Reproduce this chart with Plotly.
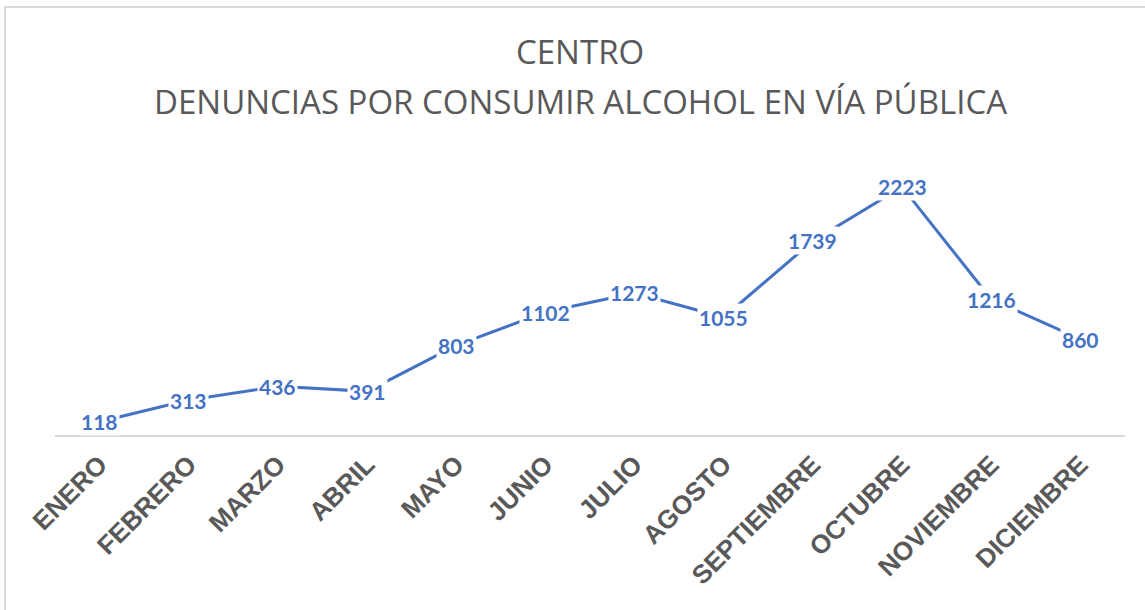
import plotly.graph_objects as go

months = ["ENERO", "FEBRERO", "MARZO", "ABRIL", "MAYO", "JUNIO", "JULIO",
          "AGOSTO", "SEPTIEMBRE", "OCTUBRE", "NOVIEMBRE", "DICIEMBRE"]
denuncias = [118, 313, 436, 391, 803, 1102, 1273, 1055, 1739, 2223, 1216, 860]
title_line1 = "CENTRO"
title_line2 = "DENUNCIAS POR CONSUMIR ALCOHOL EN VÍA PÚBLICA"

BLUE = "#4472C4"
GRAY = "#595959"

fig = go.Figure()
fig.add_trace(go.Scatter(
    x=months, y=denuncias, mode="lines",
    line=dict(color=BLUE, width=3),
    hoverinfo="skip", showlegend=False,
))

annotations = []
for m, v in zip(months, denuncias):
    annotations.append(dict(
        x=m, y=v, xref="x", yref="y", text=str(v), showarrow=False,
        font=dict(family="Lato", size=21, color=BLUE, weight="bold"),
        bgcolor="white", borderpad=1,
    ))

annotations.append(dict(
    x=0.4907, y=1.373, xref="paper", yref="paper", text=title_line1, showarrow=False,
    font=dict(family="Open Sans", size=33, color=GRAY), xanchor="center", yanchor="middle",
))
annotations.append(dict(
    x=0.4907, y=1.194, xref="paper", yref="paper", text=title_line2, showarrow=False,
    font=dict(family="Open Sans", size=33, color=GRAY), xanchor="center", yanchor="middle",
))

fig.update_layout(
    width=1145, height=610,
    margin=dict(l=55, r=20, t=156, b=175),
    paper_bgcolor="white", plot_bgcolor="white",
    annotations=annotations,
    shapes=[dict(type="rect", xref="paper", yref="paper",
                 x0=-0.0467, x1=1.03, y0=-0.7, y1=1.534,
                 line=dict(color="#d9d9d9", width=2), layer="below")],
    xaxis=dict(
        type="category", range=[-0.5, 11.5],
        showline=True, linecolor="#d9d9d9", linewidth=2,
        showgrid=False, zeroline=False, ticks="",
        tickangle=-45, ticklabelstandoff=2,
        tickfont=dict(family="Liberation Sans", size=26, color=GRAY, weight="bold"),
    ),
    yaxis=dict(range=[0, 2500], visible=False, showgrid=False, zeroline=False),
)

fig.write_html("out.html", config={"displayModeBar": False},
               post_script="document.body.style.margin='0';")
